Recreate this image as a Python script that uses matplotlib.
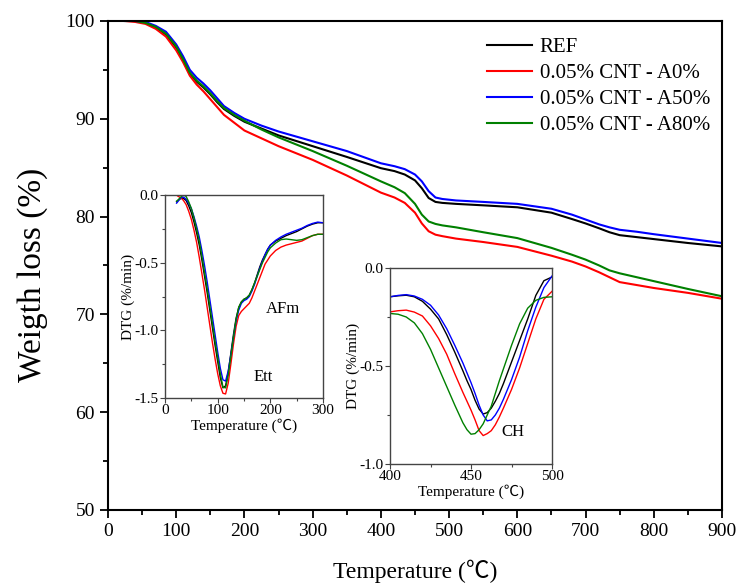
import numpy as np
import matplotlib
matplotlib.use('Agg')
import matplotlib.pyplot as plt
from matplotlib.ticker import MultipleLocator

plt.rcParams['font.family'] = ['Liberation Serif', 'Noto Sans CJK SC', 'DejaVu Sans']
plt.rcParams['axes.unicode_minus'] = False

# TGA curves (weight %) vs temperature
temp = [25, 40, 55, 70, 85, 100, 110, 120, 130, 140, 150, 160, 170, 185, 200, 225, 250,
        300, 350, 400, 420, 435, 450, 460, 470, 480, 490, 510, 550, 600, 650, 680, 700,
        720, 735, 750, 775, 800, 850, 900]
w_ref = [100, 100, 99.8, 99.4, 98.6, 97.3, 96.0, 94.6, 93.8, 93.2, 92.5, 91.7, 91.0, 90.3,
         89.7, 89.0, 88.3, 87.2, 86.1, 84.95, 84.65, 84.3, 83.7, 82.9, 81.9, 81.5, 81.4,
         81.3, 81.15, 80.95, 80.4, 79.75, 79.3, 78.8, 78.4, 78.1, 77.9, 77.7, 77.3, 76.95]
w_a0 = [100, 99.9, 99.7, 99.2, 98.4, 97.0, 95.8, 94.4, 93.5, 92.8, 92.0, 91.2, 90.4, 89.6,
        88.8, 88.0, 87.2, 85.8, 84.2, 82.45, 81.95, 81.4, 80.4, 79.3, 78.5, 78.15, 78.0,
        77.75, 77.4, 76.9, 76.0, 75.4, 74.9, 74.3, 73.8, 73.3, 73.0, 72.7, 72.2, 71.6]
w_a50 = [100, 100, 99.9, 99.5, 98.9, 97.6, 96.4, 95.0, 94.2, 93.6, 92.9, 92.1, 91.3, 90.6,
         90.0, 89.3, 88.7, 87.7, 86.7, 85.45, 85.15, 84.85, 84.3, 83.6, 82.6, 81.95, 81.8,
         81.65, 81.5, 81.3, 80.8, 80.2, 79.7, 79.2, 78.9, 78.65, 78.45, 78.2, 77.75, 77.3]
w_a80 = [100, 100, 99.8, 99.4, 98.7, 97.4, 96.1, 94.7, 93.9, 93.3, 92.6, 91.8, 91.1, 90.4,
         89.8, 88.9, 88.1, 86.7, 85.2, 83.6, 83.0, 82.4, 81.3, 80.2, 79.5, 79.25, 79.1,
         78.9, 78.4, 77.8, 76.8, 76.1, 75.6, 75.0, 74.5, 74.2, 73.8, 73.4, 72.6, 71.85]

# DTG, low temperature range (Ett / AFm)
t1 = [22, 25, 30, 35, 40, 45, 50, 55, 60, 65, 70, 75, 80, 85, 90, 95, 100, 105, 110, 115,
      120, 125, 130, 135, 140, 145, 150, 155, 160, 165, 170, 175, 180, 185, 190, 195, 200,
      210, 220, 230, 240, 250, 260, 270, 280, 290, 300]
d1_ref = [-0.05, -0.04, -0.025, -0.025, -0.04, -0.08, -0.13, -0.20, -0.28, -0.37, -0.48,
          -0.60, -0.72, -0.85, -0.98, -1.11, -1.23, -1.35, -1.425, -1.41, -1.31, -1.17, -1.03,
          -0.91, -0.83, -0.79, -0.77, -0.76, -0.74, -0.70, -0.65, -0.59, -0.53, -0.48, -0.44,
          -0.40, -0.37, -0.34, -0.32, -0.30, -0.285, -0.27, -0.25, -0.23, -0.215, -0.205, -0.205]
d1_a0 = [0.0, -0.01, -0.02, -0.04, -0.07, -0.12, -0.18, -0.26, -0.35, -0.46, -0.58, -0.70,
         -0.83, -0.96, -1.09, -1.21, -1.32, -1.41, -1.465, -1.47, -1.39, -1.25, -1.10, -0.97,
         -0.89, -0.86, -0.84, -0.82, -0.80, -0.76, -0.71, -0.66, -0.61, -0.56, -0.51, -0.48,
         -0.45, -0.41, -0.385, -0.37, -0.36, -0.35, -0.34, -0.32, -0.30, -0.29, -0.29]
d1_a50 = [-0.06, -0.045, -0.02, -0.015, -0.03, -0.06, -0.10, -0.16, -0.23, -0.31, -0.41,
          -0.52, -0.64, -0.77, -0.90, -1.03, -1.16, -1.28, -1.365, -1.375, -1.30, -1.18, -1.05,
          -0.93, -0.85, -0.80, -0.78, -0.77, -0.75, -0.71, -0.66, -0.60, -0.54, -0.49, -0.44,
          -0.40, -0.37, -0.335, -0.31, -0.29, -0.275, -0.26, -0.245, -0.225, -0.21, -0.20, -0.205]
d1_a80 = [-0.045, -0.035, -0.015, 0.0, -0.01, -0.05, -0.10, -0.17, -0.25, -0.34, -0.45,
          -0.57, -0.69, -0.82, -0.95, -1.08, -1.20, -1.32, -1.42, -1.425, -1.33, -1.19, -1.05,
          -0.92, -0.83, -0.79, -0.77, -0.76, -0.74, -0.70, -0.65, -0.60, -0.55, -0.50, -0.46,
          -0.42, -0.39, -0.355, -0.33, -0.325, -0.33, -0.335, -0.33, -0.315, -0.30, -0.29, -0.29]

# DTG, portlandite range (CH)
t2 = [400, 405, 410, 415, 420, 425, 430, 435, 440, 445, 447.5, 450, 452.5, 455, 457.5, 460,
      462.5, 465, 467.5, 470, 475, 480, 485, 490, 495, 500]
d2_ref = [-0.147, -0.142, -0.139, -0.147, -0.17, -0.21, -0.26, -0.34, -0.43, -0.525, -0.575,
          -0.62, -0.675, -0.72, -0.745, -0.738, -0.715, -0.68, -0.64, -0.59, -0.48, -0.37,
          -0.26, -0.14, -0.065, -0.046]
d2_a0 = [-0.224, -0.218, -0.215, -0.225, -0.245, -0.295, -0.36, -0.44, -0.54, -0.635, -0.68,
         -0.725, -0.775, -0.83, -0.855, -0.845, -0.83, -0.80, -0.76, -0.715, -0.62, -0.51,
         -0.385, -0.26, -0.16, -0.119]
d2_a50 = [-0.147, -0.14, -0.136, -0.143, -0.16, -0.19, -0.24, -0.31, -0.395, -0.485, -0.535,
          -0.585, -0.64, -0.70, -0.75, -0.78, -0.775, -0.75, -0.715, -0.67, -0.57, -0.455,
          -0.32, -0.20, -0.10, -0.041]
d2_a80 = [-0.232, -0.236, -0.25, -0.28, -0.335, -0.415, -0.51, -0.605, -0.70, -0.79, -0.825,
          -0.848, -0.845, -0.825, -0.795, -0.75, -0.705, -0.64, -0.575, -0.515, -0.395, -0.285,
          -0.205, -0.165, -0.15, -0.147]

labels = ['REF', '0.05% CNT - A0%', '0.05% CNT - A50%', '0.05% CNT - A80%']
colors = ['black', 'red', 'blue', 'green']


fig = plt.figure(figsize=(7.37, 5.86), dpi=100)
ax = fig.add_axes([0.1465, 0.1297, 0.8332, 0.8345])

for w, c, lab in zip([w_ref, w_a0, w_a50, w_a80], colors, labels):
    ax.plot(temp, w, color=c, lw=1.5, label=lab)

ax.set_xlim(0, 900)
ax.set_ylim(50, 100)
ax.xaxis.set_major_locator(MultipleLocator(100))
ax.xaxis.set_minor_locator(MultipleLocator(50))
ax.yaxis.set_major_locator(MultipleLocator(10))
ax.yaxis.set_minor_locator(MultipleLocator(5))
ax.tick_params(which='both', direction='out', top=False, right=False, width=1.3, labelsize=14)
ax.tick_params(which='major', length=6)
ax.tick_params(which='minor', length=3.5)
for s in ax.spines.values():
    s.set_linewidth(1.5)
ax.set_xlabel('Temperature (℃)', fontsize=17, labelpad=14)
ax.set_ylabel('Weigth loss (%)', fontsize=24)
ax.yaxis.set_label_coords(-0.098, 0.48)

ax.legend(loc='upper right', bbox_to_anchor=(1.011, 1.004), frameon=False, fontsize=15,
          handlelength=2.2, handletextpad=0.35, labelspacing=0.3)


def style_inset(a):
    for s in a.spines.values():
        s.set_linewidth(1.0)
        s.set_color('#444444')
    a.tick_params(which='both', direction='out', top=False, right=False, labelsize=11,
                  pad=1, width=0.8, color='#444444')
    a.tick_params(which='major', length=3.5)
    a.tick_params(which='minor', length=2)
    a.set_xlabel('Temperature (℃)', fontsize=11, labelpad=1)
    a.set_ylabel('DTG (%/min)', fontsize=11, labelpad=0)


# inset 1
ax1 = fig.add_axes([0.2239, 0.3208, 0.2144, 0.3464])
for d, c in zip([d1_ref, d1_a0, d1_a50, d1_a80], colors):
    ax1.plot(t1, d, color=c, lw=1.0)
ax1.set_xlim(0, 300)
ax1.set_ylim(-1.5, 0)
ax1.xaxis.set_major_locator(MultipleLocator(100))
ax1.xaxis.set_minor_locator(MultipleLocator(50))
ax1.yaxis.set_major_locator(MultipleLocator(0.5))
ax1.yaxis.set_minor_locator(MultipleLocator(0.25))
style_inset(ax1)
ax1.text(224, -0.84, 'AFm', fontsize=12, ha='center', va='center')
ax1.text(186, -1.345, 'Ett', fontsize=12, ha='center', va='center')

# inset 2
ax2 = fig.add_axes([0.5292, 0.2082, 0.2198, 0.3345])
for d, c in zip([d2_ref, d2_a0, d2_a50, d2_a80], colors):
    ax2.plot(t2, d, color=c, lw=1.0)
ax2.set_xlim(400, 500)
ax2.set_ylim(-1.0, 0)
ax2.xaxis.set_major_locator(MultipleLocator(50))
ax2.xaxis.set_minor_locator(MultipleLocator(25))
ax2.yaxis.set_major_locator(MultipleLocator(0.5))
ax2.yaxis.set_minor_locator(MultipleLocator(0.25))
style_inset(ax2)
ax2.text(476, -0.837, 'CH', fontsize=12, ha='center', va='center')

fig.savefig('out.png', dpi=100)
